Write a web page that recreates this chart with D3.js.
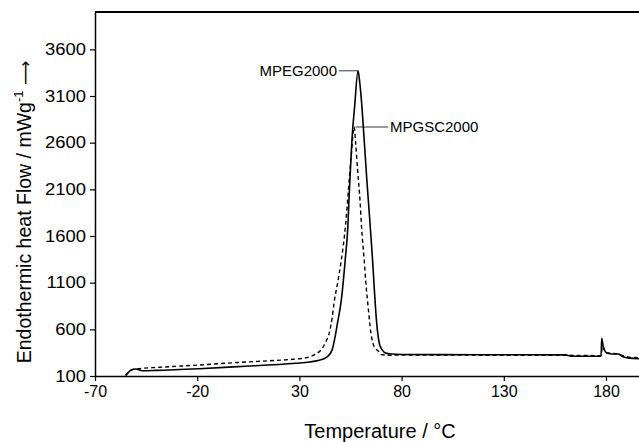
<!DOCTYPE html>
<html>
<head>
<meta charset="utf-8">
<script src="https://cdn.jsdelivr.net/npm/d3@7"></script>
<style>
  body { margin: 0; background: #fff; }
  svg text { font-family: "Liberation Sans", Arial, sans-serif; fill: #000; }
</style>
</head>
<body>
<svg id="chart" width="639" height="442"></svg>
<script>
// DATA
const xTicks = [-70, -20, 30, 80, 130, 180]
const yTicks = [100, 600, 1100, 1600, 2100, 2600, 3100, 3600]

// MPEG2000 (solid)
const mpegTemp = [-55, -52.3, -50, -47, -40, -19, 0, 28.3, 35, 39, 42, 43.6, 46, 47.3, 48.5, 50.5, 52.4, 53.7, 54.4, 55.2, 55.7, 57, 58.7,
  59.5, 60.6, 61.7, 63, 64.4, 65.8, 66.6, 67.4, 68.2, 69.2, 70.5, 72.3, 75.4, 80, 120, 160, 163, 177.6, 177.9, 178.6, 180.6, 183, 186, 188, 191.3, 197]
const mpegFlow = [105, 164, 175, 157, 160, 178, 200, 236, 250, 265, 285, 306, 380, 500, 650, 913, 1342, 1698, 2058, 2412, 2626, 2982, 3370,
  3250, 2982, 2626, 2200, 1780, 1342, 1050, 780, 580, 440, 380, 345, 335, 330, 328, 326, 312, 312, 503, 420, 343, 335, 335, 310, 292, 285]

// MPGSC2000 (dashed)
const mpgscTemp = [-55, -52.3, -49.1, -38.5, -19, 0, 26.7, 30, 35, 38, 40.5, 43, 44.6, 46, 47, 48.8, 50.5, 52.5, 54, 55.5, 56.8,
  57.5, 58.5, 59.7, 60.4, 61.7, 62.5, 63.3, 65, 66.6, 69, 70, 75, 80, 120, 160, 170, 177.6, 178.2, 180, 182, 185, 188, 192, 197]
const mpgscFlow = [105, 164, 178, 193, 218, 245, 279, 285, 305, 335, 378, 470, 560, 720, 890, 1110, 1342, 1698, 2100, 2500, 2768,
  2600, 2300, 1965, 1698, 1342, 1100, 913, 560, 413, 360, 330, 322, 325, 323, 322, 320, 318, 420, 350, 345, 340, 320, 300, 295]

const svg = d3.select('#chart')
const margins = {left: 95, top: 12, bottom: 66}
const svgHeight = 442 - margins.top - margins.bottom

// SCALES
let x = d3.scaleLinear().domain([-70, 200]).range([95, 95 + 270 * 2.044])
let y = d3.scaleLinear().domain([100, 4000]).range([376, 12])

// widen glyphs a little, the source figure is stretched sideways
function stretch(sel, factor) {
  sel.each(function() {
    let w = this.getComputedTextLength()
    d3.select(this).attr('textLength', w * factor).attr('lengthAdjust', 'spacingAndGlyphs')
  })
}

// CLIP
svg.append('clipPath').attr('id', 'clip')
  .append('rect').attr('x', 95).attr('y', 12).attr('width', 639 - 95).attr('height', svgHeight)

// X AXIS
svg.append('g')
  .attr('transform', `translate(0, ${y(100)})`)
  .call(d3.axisBottom(x).tickValues(xTicks).tickFormat(d => String(d)).tickSizeInner(5).tickSizeOuter(0).tickPadding(5))
  .call(g => g.select('.domain').attr('stroke-width', 1.5))
  .call(g => g.selectAll('.tick line').attr('stroke-width', 1.2))
  .call(g => g.selectAll('text').attr('font-size', 16).attr('font-family', '"Liberation Sans", Arial, sans-serif'))

// Y AXIS
svg.append('g')
  .attr('transform', `translate(${x(-70)}, 0)`)
  .call(d3.axisLeft(y).tickValues(yTicks).tickFormat(d => String(d)).tickSizeInner(5).tickSizeOuter(0).tickPadding(4))
  .call(g => g.select('.domain').attr('stroke-width', 1.5))
  .call(g => g.selectAll('.tick line').attr('stroke-width', 1.2))
  .call(g => g.selectAll('text').attr('font-size', 16).attr('font-family', '"Liberation Sans", Arial, sans-serif'))
  .call(g => stretch(g.selectAll('text'), 1.15))

// TOP FRAME LINE
svg.append('line')
  .attr('x1', x(-70)).attr('x2', 639)
  .attr('y1', y(4000)).attr('y2', y(4000))
  .attr('stroke', '#000').attr('stroke-width', 2)

// CURVES
let line = d3.line()
  .x(d => x(d[0]))
  .y(d => y(d[1]))
  .curve(d3.curveMonotoneX)

let plot = svg.append('g').attr('clip-path', 'url(#clip)')

plot.append('path')
  .datum(mpgscTemp.map((t, i) => [t, mpgscFlow[i]]))
  .attr('d', line)
  .attr('fill', 'none')
  .attr('stroke', '#000')
  .attr('stroke-width', 1.4)
  .attr('stroke-dasharray', '4,3')

plot.append('path')
  .datum(mpegTemp.map((t, i) => [t, mpegFlow[i]]))
  .attr('d', line)
  .attr('fill', 'none')
  .attr('stroke', '#000')
  .attr('stroke-width', 1.6)

// ANNOTATIONS
svg.append('line')
  .attr('x1', 339).attr('x2', x(58.7))
  .attr('y1', y(3370)).attr('y2', y(3370))
  .attr('stroke', '#000').attr('stroke-width', 0.8)
svg.append('text')
  .attr('x', 337).attr('y', y(3370) + 5)
  .attr('text-anchor', 'end')
  .attr('font-size', 15)
  .text('MPEG2000')

svg.append('line')
  .attr('x1', x(57.5)).attr('x2', 388)
  .attr('y1', y(2768)).attr('y2', y(2768))
  .attr('stroke', '#000').attr('stroke-width', 0.8)
svg.append('text')
  .attr('x', 390).attr('y', y(2768) + 5)
  .attr('font-size', 15)
  .text('MPGSC2000')

// AXIS TITLES
svg.append('text')
  .attr('x', 380).attr('y', 438)
  .attr('text-anchor', 'middle')
  .attr('font-size', 20)
  .text('Temperature / °C')

let yTitle = svg.append('text')
  .attr('transform', `translate(31, 212) rotate(-90)`)
  .attr('text-anchor', 'middle')
  .attr('font-size', 19.5)
yTitle.append('tspan').text('Endothermic heat Flow / mWg')
yTitle.append('tspan').attr('dy', -8).attr('font-size', 13).text('-1')
yTitle.append('tspan').attr('dy', 8).attr('font-size', 17)
  .attr('font-family', '"DejaVu Sans", sans-serif').text(' \u27F6')
</script>
</body>
</html>
